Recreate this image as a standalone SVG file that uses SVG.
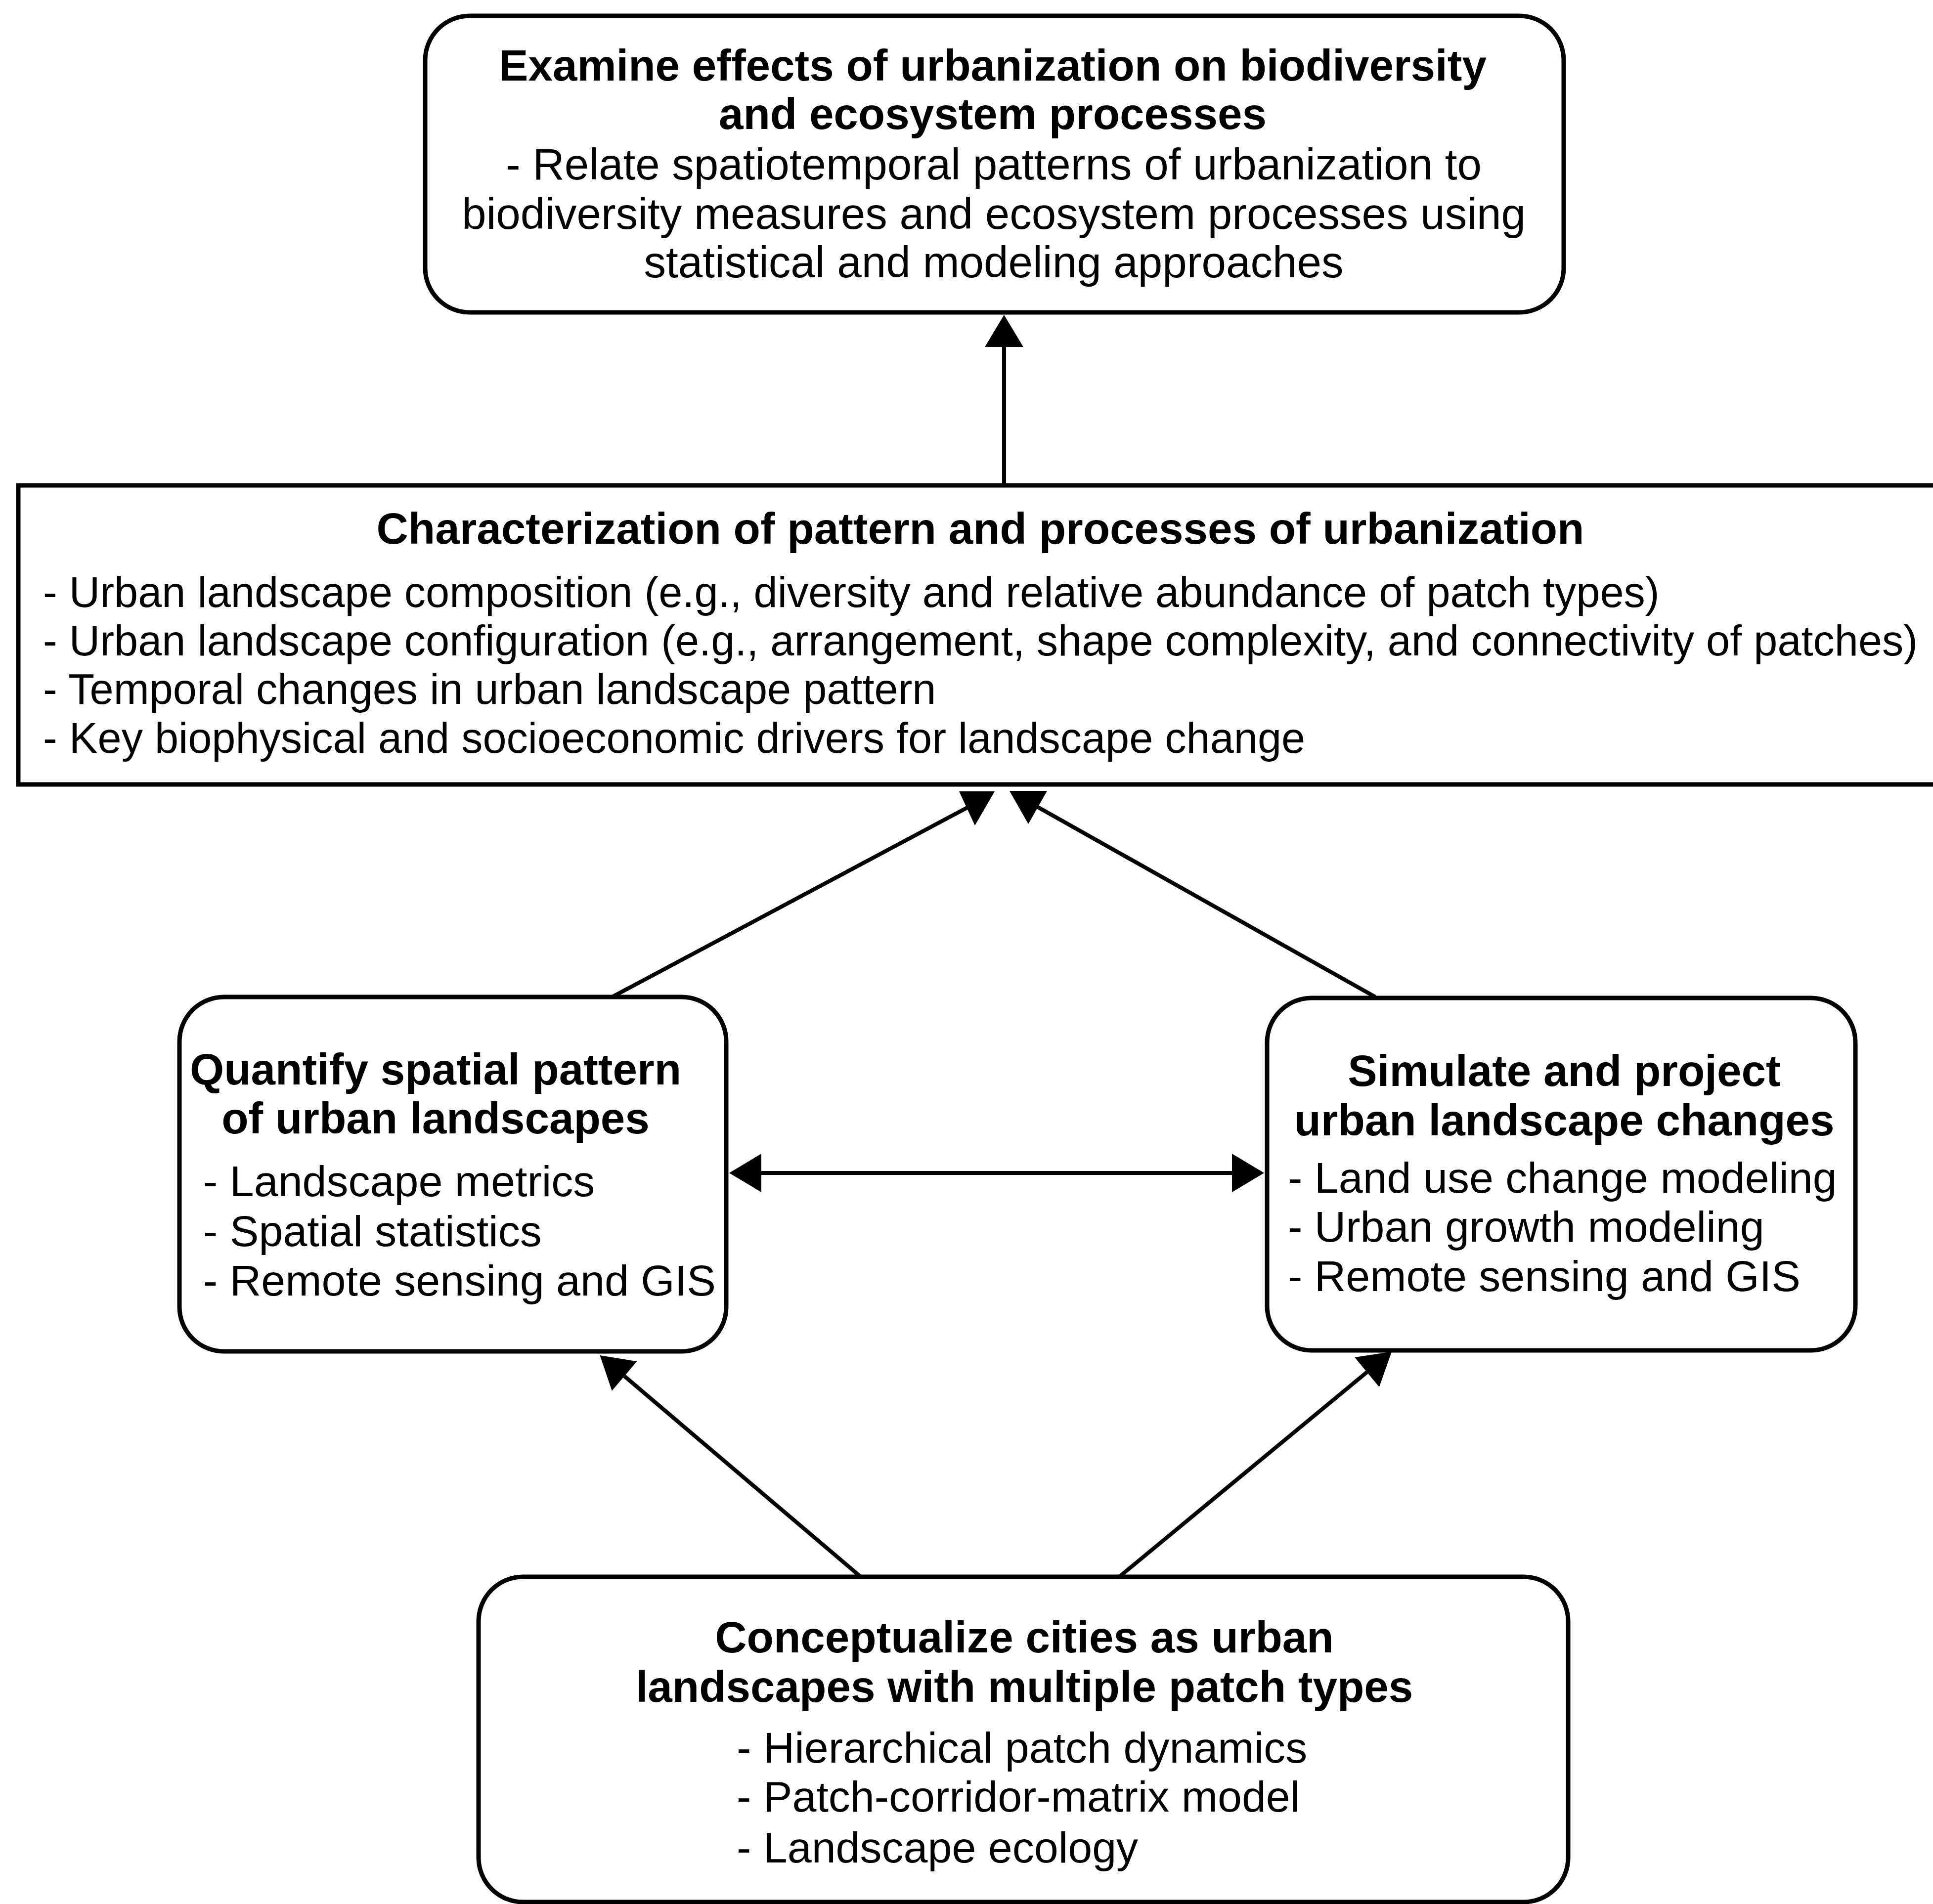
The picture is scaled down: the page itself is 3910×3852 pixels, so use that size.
<svg xmlns="http://www.w3.org/2000/svg" width="3910" height="3852" viewBox="0 0 3910 3852">
<style>
.box{fill:#fff;stroke:#000;stroke-width:9}
.con{fill:none;stroke:#000;stroke-width:8}
.head{fill:#000;stroke:none}
text{font-family:"Liberation Sans",Arial,Helvetica,sans-serif;font-size:88px;fill:#000}
.b{font-weight:bold;font-size:89px}
.c{text-anchor:middle}
.t{font-size:89px}
.m{font-size:86.5px}
</style>
<defs>
<marker id="arr" markerUnits="userSpaceOnUse" viewBox="0 0 65 78" markerWidth="65" markerHeight="78" refX="0" refY="39" orient="auto-start-reverse" overflow="visible">
<path d="M0,0 L65,39 L0,78 z" fill="#000"/>
</marker>
</defs>
<rect width="3910" height="3852" fill="#fff"/>
<g id="top-box">
<rect class="box" x="860" y="32" width="2303" height="600" rx="90"/>
<text class="b c" x="2008" y="163">Examine effects of urbanization on biodiversity</text>
<text class="b c" x="2008" y="261">and ecosystem processes</text>
<text class="c t" x="2010" y="363">- Relate spatiotemporal patterns of urbanization to</text>
<text class="c t" x="2010" y="463">biodiversity measures and ecosystem processes using</text>
<text class="c t" x="2010" y="561">statistical and modeling approaches</text>
</g>
<g id="middle-box">
<path class="box" d="M3930,982 H37 V1587 H3930"/>
<text class="b c" x="1983" y="1100">Characterization of pattern and processes of urbanization</text>
<text class="m" x="87" y="1228">- Urban landscape composition (e.g., diversity and relative abundance of patch types)</text>
<text class="m" x="87" y="1326">- Urban landscape configuration (e.g., arrangement, shape complexity, and connectivity of patches)</text>
<text class="m" x="87" y="1424">- Temporal changes in urban landscape pattern</text>
<text class="m" x="87" y="1523">- Key biophysical and socioeconomic drivers for landscape change</text>
</g>
<g id="left-box">
<rect class="box" x="363" y="2017" width="1106" height="717" rx="90"/>
<text class="b c" x="881" y="2194">Quantify spatial pattern</text>
<text class="b c" x="881" y="2293">of urban landscapes</text>
<text x="411" y="2420">- Landscape metrics</text>
<text x="411" y="2521">- Spatial statistics</text>
<text x="411" y="2621">- Remote sensing and GIS</text>
</g>
<g id="right-box">
<rect class="box" x="2563" y="2019" width="1190" height="713" rx="90"/>
<text class="b c" x="3164" y="2197">Simulate and project</text>
<text class="b c" x="3164" y="2297">urban landscape changes</text>
<text x="2605" y="2413">- Land use change modeling</text>
<text x="2605" y="2512">- Urban growth modeling</text>
<text x="2605" y="2612">- Remote sensing and GIS</text>
</g>
<g id="bottom-box">
<rect class="box" x="968" y="3190" width="2204" height="658" rx="90"/>
<text class="b c" x="2072" y="3343">Conceptualize cities as urban</text>
<text class="b c" x="2072" y="3443">landscapes with multiple patch types</text>
<text x="1490" y="3566">- Hierarchical patch dynamics</text>
<text x="1490" y="3665">- Patch-corridor-matrix model</text>
<text x="1490" y="3768">- Landscape ecology</text>
</g>
<g id="connectors">
<line class="con" x1="2031" y1="980" x2="2031" y2="702" marker-end="url(#arr)"/>
<line class="con" x1="1238" y1="2017" x2="1975" y2="1624"/>
<polygon class="head" points="1940,1601 2012,1601 1972,1670"/>
<line class="con" x1="2782" y1="2017" x2="2080" y2="1622"/>
<polygon class="head" points="2042,1600 2118,1600 2080,1667"/>
<line class="con" x1="1540" y1="2373" x2="2492" y2="2373" marker-start="url(#arr)" marker-end="url(#arr)"/>
<line class="con" x1="1741" y1="3190" x2="1263" y2="2784" marker-end="url(#arr)"/>
<line class="con" x1="2264" y1="3190" x2="2765" y2="2776" marker-end="url(#arr)"/>
</g>
</svg>
